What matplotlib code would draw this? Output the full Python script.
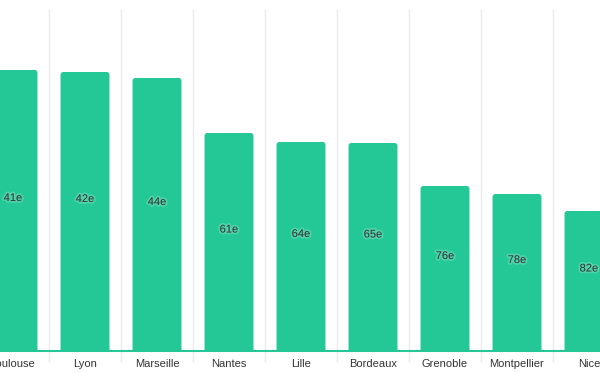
import matplotlib
matplotlib.use("Agg")
import matplotlib.pyplot as plt
import matplotlib.patheffects as pe
from matplotlib.patches import FancyBboxPatch

cities = ["Toulouse", "Lyon", "Marseille", "Nantes", "Lille", "Bordeaux",
          "Grenoble", "Montpellier", "Nice"]
scores = [281, 279, 273, 218, 209, 208, 165, 157, 140]
ranks = ["41e", "42e", "44e", "61e", "64e", "65e", "76e", "78e", "82e"]

GREEN = "#23c896"

plt.rcParams["font.family"] = ["Liberation Sans", "DejaVu Sans"]

fig = plt.figure(figsize=(6, 3.72), dpi=100)
ax = fig.add_axes([0, 21 / 372, 1, 341 / 372])

x = list(range(len(cities)))
bars = ax.bar(x, scores, width=0.68, color=GREEN, alpha=0)

# rounded bars built from the bar geometry
for b in bars:
    ax.add_patch(FancyBboxPatch((b.get_x(), -10), b.get_width(), b.get_height() + 10,
                                boxstyle="round,pad=0,rounding_size=0.04",
                                mutation_aspect=72, color=GREEN, lw=0))

for xi, s, r in zip(x, scores, ranks):
    ax.annotate(r, (xi, s / 2), xytext=(0, 9), textcoords="offset points",
                ha="center", va="center", fontsize=8, color="#333333",
                path_effects=[pe.withStroke(linewidth=2.5, foreground="white", alpha=0.2)])

ax.set_xticks(x)
ax.set_xticklabels(cities, fontsize=8, color="#333333")
ax.tick_params(axis="x", which="major", length=0, pad=6)
ax.set_xticks([i + 0.5 for i in range(-1, len(cities))], minor=True)
ax.tick_params(axis="x", which="minor", length=8, color="#ebebeb", width=1)
ax.grid(axis="x", which="minor", color="#ebebeb", linewidth=1)
ax.set_axisbelow(True)
ax.set_yticks([])

ax.set_xlim(-13 / 72, 587 / 72)
ax.set_ylim(0, 341)

for side in ["top", "left", "right"]:
    ax.spines[side].set_visible(False)
ax.spines["bottom"].set_color(GREEN)
ax.spines["bottom"].set_linewidth(1.5)
ax.spines["bottom"].set_zorder(5)

fig.savefig("out.png", dpi=100)
